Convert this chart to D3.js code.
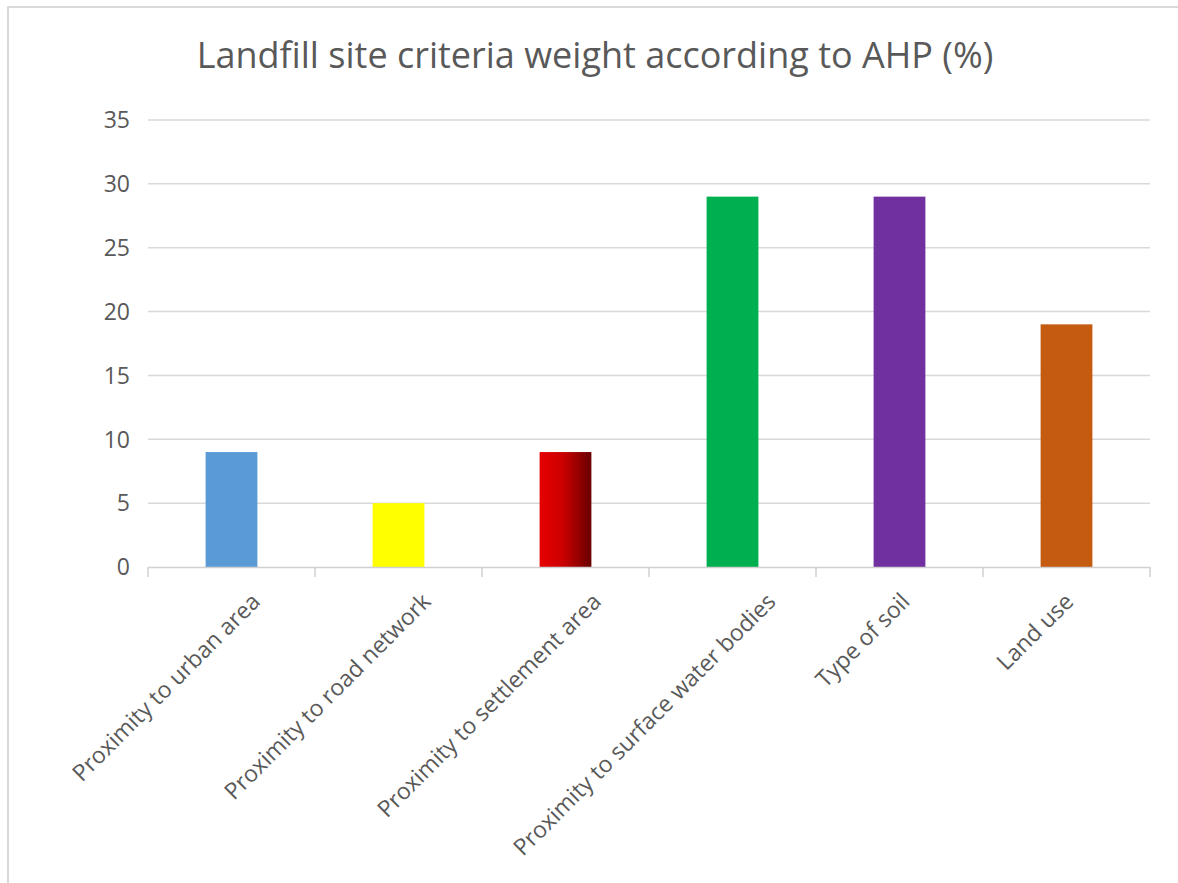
<!DOCTYPE html>
<html>
<head>
<meta charset="utf-8">
<script src="https://cdn.jsdelivr.net/npm/d3@7"></script>
<style>
  body { margin: 0; background: #fff; }
  svg { display: block; font-family: "Open Sans", sans-serif; }
</style>
</head>
<body>
<svg id="chart" width="1178" height="883"></svg>
<script>
const categories = [
  "Proximity to urban area",
  "Proximity to road network",
  "Proximity to settlement area",
  "Proximity to surface water bodies",
  "Type of soil",
  "Land use"
];
const weights = [9, 5, 9, 29, 29, 19];
const barColors = ["#5B9BD5", "#FFFF00", "url(#redGrad)", "#00B050", "#7030A0", "#C55A11"];
const yTicks = [0, 5, 10, 15, 20, 25, 30, 35];
const title = "Landfill site criteria weight according to AHP (%)";

const svg = d3.select("#chart");

// gradient for the settlement bar
const grad = svg.append("defs").append("linearGradient")
  .attr("id", "redGrad").attr("x1", "0%").attr("x2", "100%");
grad.append("stop").attr("offset", "0%").attr("stop-color", "#E60000");
grad.append("stop").attr("offset", "45%").attr("stop-color", "#CC0000");
grad.append("stop").attr("offset", "100%").attr("stop-color", "#680000");

// outer frame (right and bottom run off the picture)
svg.append("path")
  .attr("d", "M8,890 L8,7 L1190,7")
  .attr("fill", "none")
  .attr("stroke", "#d9d9d9")
  .attr("stroke-width", 2);

const margin = { left: 148, right: 1150, top: 120, bottom: 567 };

const x = d3.scaleBand()
  .domain(categories)
  .range([margin.left, margin.right])
  .paddingInner(0)
  .paddingOuter(0);

const y = d3.scaleLinear()
  .domain([0, 35])
  .range([margin.bottom, margin.top]);

// gridlines
svg.append("g")
  .selectAll("line")
  .data(yTicks.filter(d => d > 0))
  .join("line")
  .attr("x1", margin.left)
  .attr("x2", margin.right)
  .attr("y1", d => y(d))
  .attr("y2", d => y(d))
  .attr("stroke", "#d9d9d9")
  .attr("stroke-width", 1.5);

// y tick labels
svg.append("g")
  .selectAll("text")
  .data(yTicks)
  .join("text")
  .attr("x", 130)
  .attr("y", d => y(d))
  .attr("dy", "0.36em")
  .attr("text-anchor", "end")
  .attr("fill", "#595959")
  .attr("font-size", 23)
  .text(d => d);

// bars
const barW = x.bandwidth() * 0.31;
svg.append("g")
  .selectAll("rect")
  .data(weights)
  .join("rect")
  .attr("x", (d, i) => x(categories[i]) + x.bandwidth() / 2 - barW / 2)
  .attr("y", d => y(d))
  .attr("width", barW)
  .attr("height", d => y(0) - y(d))
  .attr("fill", (d, i) => barColors[i]);

// x axis
const xAxis = svg.append("g")
  .attr("transform", `translate(0,${margin.bottom})`)
  .call(d3.axisBottom(x).tickValues([]).tickSizeOuter(0));
xAxis.select(".domain").attr("stroke", "#d0d0d0").attr("stroke-width", 1.5);

const boundaries = categories.map(c => x(c)).concat([margin.right]);
svg.append("g")
  .selectAll("line")
  .data(boundaries)
  .join("line")
  .attr("x1", d => d).attr("x2", d => d)
  .attr("y1", margin.bottom).attr("y2", margin.bottom + 10)
  .attr("stroke", "#d0d0d0")
  .attr("stroke-width", 1.5);

// rotated category labels; longer labels sit a bit further right, as in the original
svg.append("g")
  .selectAll("text")
  .data(categories)
  .join("text")
  .attr("text-anchor", "end")
  .attr("fill", "#595959")
  .attr("font-size", 23)
  .text(d => d)
  .attr("transform", function(d) {
    const len = this.getComputedTextLength();
    const cx = x(d) + x.bandwidth() / 2 + 0.138 * len - 5;
    return `translate(${cx},${margin.bottom + 36}) rotate(-45)`;
  });

// title
svg.append("text")
  .attr("x", 595)
  .attr("y", 68)
  .attr("text-anchor", "middle")
  .attr("fill", "#595959")
  .attr("font-size", 36)
  .text(title);
</script>
</body>
</html>
